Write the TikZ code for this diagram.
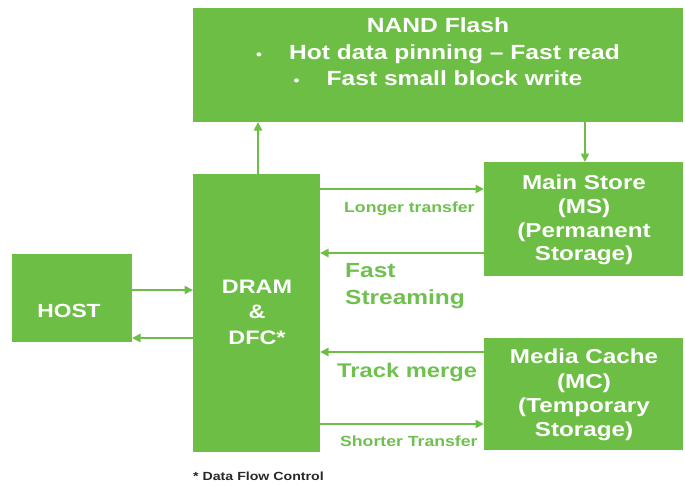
\documentclass[tikz,border=0pt]{standalone}
\usepackage{fontspec}
\setmainfont{Liberation Sans}[FakeStretch=1.2]
\usetikzlibrary{arrows.meta}
\definecolor{boxgreen}{RGB}{109,190,69}
\definecolor{labgreen}{RGB}{112,192,80}
\definecolor{fngray}{RGB}{40,40,40}
\tikzset{
  blk/.style={fill=boxgreen, draw=none},
  btxt/.style={text=white, align=center, inner sep=0pt},
  conn/.style={draw=boxgreen, line width=2.6pt, -{Triangle[length=8.5pt,width=8pt]}},
  lab/.style={text=labgreen, inner sep=0pt},
}
\begin{document}
\begin{tikzpicture}[x=1pt,y=-1pt]
\useasboundingbox (0,0) rectangle (685,485);
% boxes
\path[blk] (193,8) rectangle (683,122);
\path[blk] (193,174) rectangle (320,452);
\path[blk] (12,254) rectangle (132,342);
\path[blk] (484,162) rectangle (683,276);
\path[blk] (484,338) rectangle (683,450);
% box texts
\node[btxt, font=\fontsize{20.5}{26.5}\selectfont\bfseries] (nand) at (438,52)
  {NAND Flash\\
   {\fontsize{14}{14}\selectfont\textbullet}\hspace{27pt}Hot data pinning -- Fast read\\
   {\fontsize{14}{14}\selectfont\textbullet}\hspace{27pt}Fast small block write};
\node[btxt, font=\fontsize{19.5}{25.5}\selectfont\bfseries] (dram) at (257,312) {DRAM\\\&\\DFC*};
\node[btxt, font=\fontsize{19}{22}\selectfont\bfseries] (host) at (69,311) {HOST};
\node[btxt, font=\fontsize{20.2}{23.8}\selectfont\bfseries] (ms) at (584,220) {Main Store\\(MS)\\(Permanent\\Storage)};
\node[btxt, font=\fontsize{20.2}{24.3}\selectfont\bfseries] (mc) at (584,395) {Media Cache\\(MC)\\(Temporary\\Storage)};
% named connection points
\coordinate (dramtop) at (258,174);
\coordinate (nandbotL) at (258,122);
\coordinate (nandbotR) at (585,122);
\coordinate (mstop) at (585,162);
\coordinate (d1) at (320,189); \coordinate (m1) at (484,189);
\coordinate (d2) at (320,253); \coordinate (m2) at (484,253);
\coordinate (d3) at (320,352); \coordinate (c3) at (484,352);
\coordinate (d4) at (320,424); \coordinate (c4) at (484,424);
\coordinate (h1) at (132,290); \coordinate (dh1) at (193,290);
\coordinate (h2) at (132,338); \coordinate (dh2) at (193,338);
% connectors
\draw[conn] (dramtop) -- (nandbotL);
\draw[conn] (nandbotR) -- (mstop);
\draw[conn] (d1) -- (m1);
\draw[conn] (m2) -- (d2);
\draw[conn] (c3) -- (d3);
\draw[conn] (d4) -- (c4);
\draw[conn] (h1) -- (dh1);
\draw[conn] (dh2) -- (h2);
% labels
\node[lab, anchor=west, font=\fontsize{14.7}{16}\selectfont\bfseries] (l1) at (344,209) {Longer transfer};
\node[lab, anchor=north west, align=left, font=\fontsize{20.4}{27}\selectfont\bfseries] (l2) at (345,263) {Fast\\Streaming};
\node[lab, anchor=west, font=\fontsize{19.8}{22}\selectfont\bfseries] (l3) at (337,372) {Track merge};
\node[lab, anchor=west, font=\fontsize{14.7}{16}\selectfont\bfseries] (l4) at (340,441) {Shorter Transfer};
\node[anchor=west, inner sep=0pt, text=fngray, font=\fontsize{11.8}{13}\selectfont\bfseries] (fn) at (193,476) {* Data Flow Control};
\end{tikzpicture}
\end{document}
